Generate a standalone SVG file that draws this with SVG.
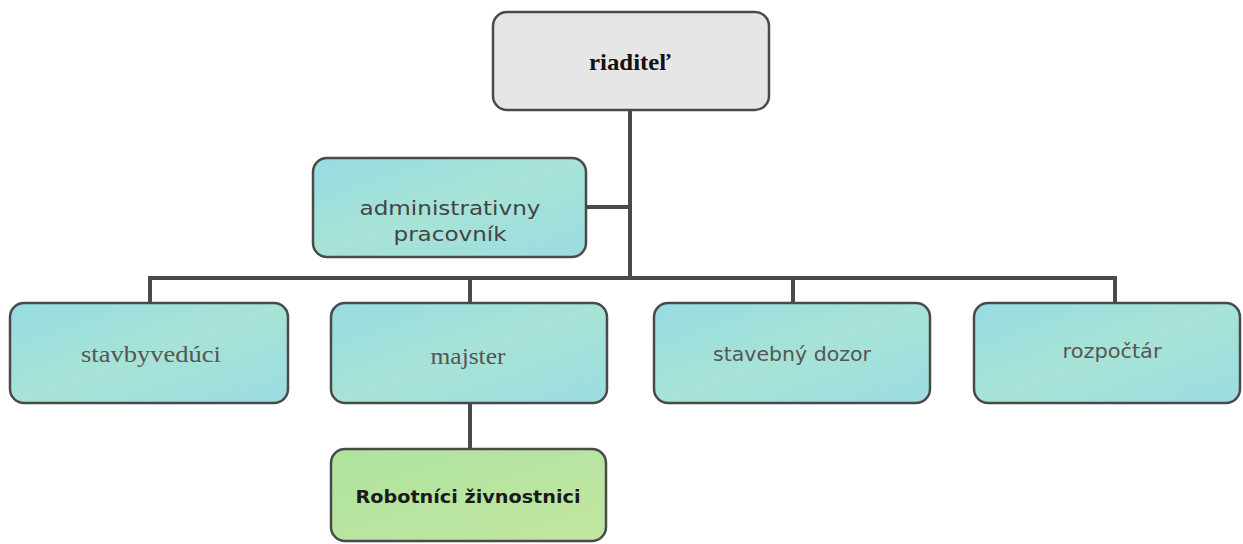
<svg xmlns="http://www.w3.org/2000/svg" width="1243" height="544" viewBox="0 0 1243 544">
<defs>
<linearGradient id="teal" x1="0" y1="0" x2="1" y2="1">
<stop offset="0" stop-color="#96dce2"/>
<stop offset="0.5" stop-color="#a7e3d6"/>
<stop offset="1" stop-color="#9cdce2"/>
</linearGradient>
<linearGradient id="green" x1="0" y1="0" x2="1" y2="1">
<stop offset="0" stop-color="#aee39c"/>
<stop offset="1" stop-color="#c2e6a2"/>
</linearGradient>
</defs>
<style>
.box{stroke:#4a4a4a;stroke-width:2.5}
.t{fill:url(#teal)}
.conn{stroke:#4a4a4a;stroke-width:4;fill:none}
.serif{font-family:"Liberation Serif","DejaVu Serif",serif;font-size:23px;fill:#555;text-anchor:middle}
.sans{font-family:"DejaVu Sans","Noto Sans",sans-serif;font-size:19px;fill:#555;text-anchor:middle}
</style>
<rect width="1243" height="544" fill="#ffffff"/>
<g id="connectors">
<path class="conn" d="M630 110 V278"/>
<path class="conn" d="M586 207 H630"/>
<path class="conn" d="M150 303 V278 H1115 V303"/>
<path class="conn" d="M470 278 V303"/>
<path class="conn" d="M793 278 V303"/>
<path class="conn" d="M470 403 V449"/>
</g>
<g id="riaditel">
<rect class="box" x="493" y="12" width="276" height="98" rx="14" fill="#e6e6e6"/>
<text x="630" y="70" class="serif" style="fill:#111;font-weight:bold" textLength="82" lengthAdjust="spacingAndGlyphs">riaditeľ</text>
</g>
<g id="administrativny">
<rect class="box t" x="313" y="158" width="273" height="99" rx="14"/>
<text x="450" y="215" class="sans" style="fill:#444" textLength="181" lengthAdjust="spacingAndGlyphs">administrativny</text>
<text x="450" y="241" class="sans" style="fill:#444" textLength="113" lengthAdjust="spacingAndGlyphs">pracovník</text>
</g>
<g id="stavbyveduci">
<rect class="box t" x="10" y="303" width="278" height="100" rx="14"/>
<text x="151" y="362" class="serif" textLength="140" lengthAdjust="spacingAndGlyphs">stavbyvedúci</text>
</g>
<g id="majster">
<rect class="box t" x="331" y="303" width="276" height="100" rx="14"/>
<text x="468" y="364" class="serif" textLength="75" lengthAdjust="spacingAndGlyphs">majster</text>
</g>
<g id="stavebny-dozor">
<rect class="box t" x="654" y="303" width="276" height="100" rx="14"/>
<text x="792" y="361" class="sans" textLength="158" lengthAdjust="spacingAndGlyphs">stavebný dozor</text>
</g>
<g id="rozpoctar">
<rect class="box t" x="974" y="303" width="266" height="100" rx="14"/>
<text x="1112" y="358" class="sans" textLength="99" lengthAdjust="spacingAndGlyphs">rozpočtár</text>
</g>
<g id="robotnici">
<rect class="box" x="331" y="449" width="275" height="92" rx="14" fill="url(#green)"/>
<text x="468" y="503" class="sans" style="fill:#1a1a1a;font-weight:bold;font-size:18px" textLength="225" lengthAdjust="spacingAndGlyphs">Robotníci živnostnici</text>
</g>
</svg>
